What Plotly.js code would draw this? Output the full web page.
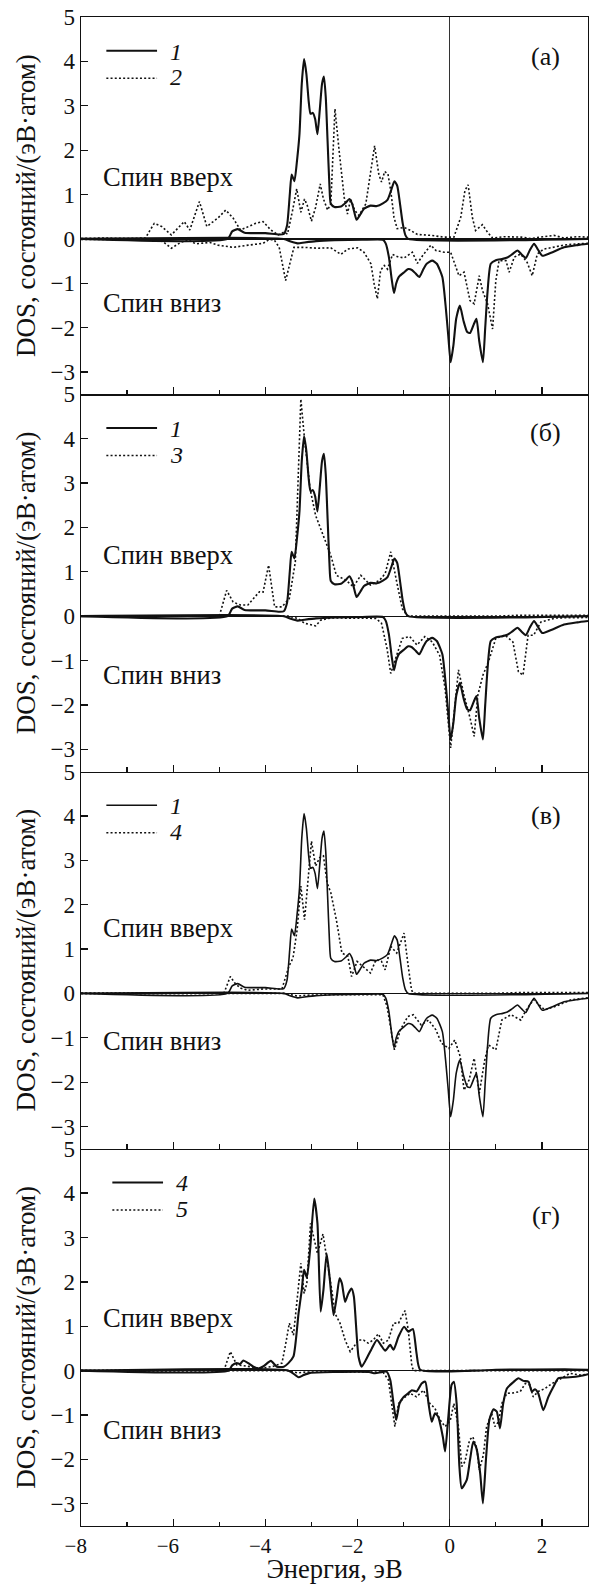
<!DOCTYPE html>
<html>
<head>
<meta charset="utf-8">
<script src="https://cdn.plot.ly/plotly-3.0.1.min.js"></script>
<style>html,body{margin:0;padding:0;background:#fff;}</style>
</head>
<body>
<div id="chart" style="width:589px;height:1584px;"></div>
<script>
// ---- Data ----
// Curve 1 (panels а, б, в, solid)
const s1UpX = [-8,-4.82,-4.72,-4.6,-4.45,-4.2,-4.0,-3.7,-3.6,-3.53,-3.47,-3.43,-3.37,-3.31,-3.26,-3.21,-3.16,-3.11,-3.06,-3.02,-2.97,-2.92,-2.87,-2.82,-2.77,-2.73,-2.69,-2.65,-2.61,-2.58,-2.5,-2.36,-2.25,-2.18,-2.12,-2.07,-2.02,-1.94,-1.86,-1.72,-1.58,-1.45,-1.35,-1.27,-1.2,-1.14,-1.08,-1.02,-0.96,-0.9,3];
const s1UpY = [0,0,0.17,0.22,0.14,0.13,0.13,0.1,0.11,0.3,1.0,1.45,1.3,1.8,2.36,3.5,4.05,3.72,3.1,2.82,2.84,2.7,2.36,2.9,3.5,3.66,3.2,2.2,1.2,0.79,0.72,0.73,0.82,0.9,0.8,0.6,0.43,0.55,0.68,0.75,0.74,0.8,0.88,1.1,1.3,1.2,0.8,0.35,0.08,0,0];
const s1DnX = [-8,-3.6,-3.45,-3.3,-3.15,-2.9,-2.5,-1.9,-1.45,-1.39,-1.32,-1.26,-1.21,-1.16,-1.1,-1.0,-0.9,-0.82,-0.74,-0.66,-0.58,-0.5,-0.38,-0.28,-0.16,-0.09,-0.03,0.02,0.08,0.14,0.22,0.3,0.38,0.44,0.52,0.58,0.64,0.72,0.77,0.82,0.89,1.0,1.15,1.25,1.35,1.47,1.56,1.65,1.74,1.83,1.92,2.01,2.2,2.48,2.77,3.0];
const s1DnY = [0,0,-0.06,-0.1,-0.08,-0.05,-0.03,-0.02,-0.02,-0.1,-0.41,-0.9,-1.22,-1.0,-0.85,-0.76,-0.68,-0.7,-0.78,-0.86,-0.7,-0.56,-0.49,-0.56,-0.86,-1.5,-2.2,-2.78,-2.4,-1.8,-1.5,-1.85,-2.1,-2.12,-1.93,-1.8,-2.3,-2.78,-2.0,-1.2,-0.56,-0.48,-0.45,-0.42,-0.35,-0.26,-0.35,-0.43,-0.25,-0.11,-0.25,-0.38,-0.31,-0.19,-0.14,-0.11];

// Curve 2 (panel а, dotted)
const s2UpX = [-8,-7.5,-7.0,-6.6,-6.5,-6.41,-6.25,-6.04,-5.76,-5.64,-5.43,-5.27,-5.03,-4.86,-4.7,-4.54,-4.21,-4.05,-3.88,-3.72,-3.6,-3.52,-3.41,-3.32,-3.23,-3.15,-3.09,-3.0,-2.91,-2.81,-2.74,-2.65,-2.58,-2.49,-2.4,-2.29,-2.22,-2.15,-2.06,-1.97,-1.82,-1.73,-1.63,-1.54,-1.48,-1.41,-1.34,-1.28,-1.21,-1.14,-0.99,-0.85,-0.7,-0.41,-0.12,0.09,0.24,0.33,0.4,0.49,0.56,0.71,0.82,0.93,1.18,1.55,1.76,2.26,2.48,2.77,3.0];
const s2UpY = [0.01,0.02,0.01,0.02,0.2,0.35,0.28,0.09,0.39,0.2,0.84,0.28,0.47,0.65,0.47,0.2,0.35,0.39,0.2,0.09,0.15,0.11,0.64,1.13,0.6,0.9,0.75,0.4,0.71,1.24,0.9,0.65,0.79,2.93,1.99,0.94,0.56,0.9,0.64,0.53,0.79,1.46,2.1,1.46,1.28,1.52,1.46,1.09,0.49,0.23,0.26,0.19,0.1,0.08,0.04,0.04,0.49,1.09,1.22,0.49,0.19,0.32,0.15,0.02,0.05,0.04,0.01,0.08,0.02,0.05,0.04];
const s2DnX = [-8,-6.3,-6.2,-6.04,-5.84,-5.68,-5.51,-5.2,-5.03,-4.7,-4.37,-4.05,-3.93,-3.81,-3.7,-3.56,-3.47,-3.38,-3.16,-2.87,-2.58,-2.36,-2.22,-2.0,-1.86,-1.71,-1.64,-1.57,-1.5,-1.42,-1.35,-1.24,-1.13,-0.99,-0.81,-0.7,-0.59,-0.41,-0.3,-0.12,0.02,0.13,0.2,0.31,0.44,0.53,0.64,0.71,0.82,0.93,1.0,1.07,1.22,1.29,1.4,1.54,1.68,1.79,1.9,2.04,2.26,2.48,2.77,3.0];
const s2DnY = [-0.01,-0.02,-0.08,-0.21,-0.08,-0.02,-0.11,-0.08,-0.14,-0.19,-0.14,-0.1,-0.02,-0.02,-0.19,-0.94,-0.56,-0.19,-0.19,-0.21,-0.2,-0.35,-0.23,-0.2,-0.3,-0.56,-1.01,-1.35,-0.71,-0.6,-0.68,-0.35,-0.4,-0.43,-0.3,-0.55,-0.38,-0.14,-0.26,-0.3,-0.3,-0.64,-0.83,-0.75,-1.39,-1.46,-0.83,-1.16,-1.46,-2.03,-0.94,-0.49,-0.49,-0.75,-0.41,-0.34,-0.53,-0.83,-0.34,-0.23,-0.19,-0.14,-0.11,-0.1];

// Curve 3 (panel б, dotted)
const s3UpX = [-8,-5.0,-4.84,-4.7,-4.54,-4.38,-4.13,-4.05,-3.93,-3.8,-3.64,-3.48,-3.35,-3.23,-3.15,-3.03,-2.91,-2.74,-2.58,-2.46,-2.25,-2.09,-1.93,-1.72,-1.52,-1.4,-1.28,-1.15,-1.03,-0.91,1.0,1.5,3.0];
const s3UpY = [0,0,0.58,0.32,0.25,0.25,0.55,0.54,1.15,0.21,0.21,0.4,1.22,4.89,3.99,2.87,2.27,1.82,1.37,0.92,0.81,0.66,0.92,0.7,0.81,0.96,1.45,0.77,0.17,0,0,0.02,0.02];
const s3DnX = [-8,-3.5,-3.3,-3.15,-2.91,-2.8,-2.58,-1.6,-1.48,-1.36,-1.28,-1.15,-1.03,-0.87,-0.71,-0.54,-0.38,-0.22,-0.1,0.02,0.11,0.19,0.31,0.44,0.53,0.61,0.72,0.84,1.0,1.2,1.37,1.49,1.59,1.7,1.82,1.98,2.3,3.0];
const s3DnY = [0,0,-0.05,-0.16,-0.22,-0.09,-0.04,-0.05,-0.16,-0.73,-1.29,-0.88,-0.5,-0.46,-0.65,-0.46,-0.58,-0.88,-1.63,-2.97,-2.0,-1.21,-1.78,-2.29,-2.71,-1.78,-1.33,-1.03,-0.5,-0.43,-0.58,-1.25,-1.33,-0.43,-0.43,-0.13,-0.04,-0.03];

// Curve 4 (panel в, dotted)
const s4UpX = [-8,-4.9,-4.76,-4.66,-4.54,-4.38,-4.05,-3.64,-3.49,-3.4,-3.31,-3.23,-3.15,-3.08,-3.0,-2.91,-2.82,-2.74,-2.66,-2.58,-2.46,-2.34,-2.21,-2.13,-2.01,-1.89,-1.72,-1.6,-1.48,-1.4,-1.28,-1.15,-0.99,-0.91,-0.83,-0.79,1.0,1.5,3.0];
const s4UpY = [0,0,0.38,0.23,0.12,0.07,0.1,0.1,0.61,0.8,1.44,2.42,1.66,2.57,3.43,2.87,3.06,3.1,2.49,2.27,1.66,0.91,0.84,0.38,0.72,0.61,0.46,0.76,0.72,0.53,1.06,0.91,1.36,0.69,0.08,0,0,0.02,0.02];
const s4DnX = [-8,-3.6,-3.3,-3.1,-2.5,-1.45,-1.36,-1.2,-1.07,-0.91,-0.79,-0.62,-0.46,-0.3,-0.18,-0.02,0.11,0.23,0.31,0.42,0.53,0.64,0.76,0.84,1.0,1.13,1.33,1.54,1.66,1.82,2.06,2.3,2.64,3.0];
const s4DnY = [0,0,-0.06,-0.04,-0.03,-0.03,-0.29,-1.27,-0.82,-0.52,-0.48,-0.71,-0.6,-0.82,-1.12,-1.24,-1.05,-1.43,-2.18,-1.95,-1.46,-2.25,-1.5,-1.16,-1.27,-0.6,-0.48,-0.6,-0.37,-0.14,-0.37,-0.29,-0.14,-0.1];

// Curve 4 (panel г, solid)
const s4gUpX = [-8,-4.8,-4.72,-4.62,-4.55,-4.48,-4.37,-4.26,-4.15,-4.04,-3.88,-3.75,-3.6,-3.5,-3.39,-3.28,-3.21,-3.16,-3.1,-3.03,-2.94,-2.87,-2.8,-2.74,-2.67,-2.6,-2.52,-2.45,-2.39,-2.34,-2.27,-2.2,-2.13,-2.08,-1.98,-1.91,-1.8,-1.69,-1.58,-1.47,-1.4,-1.29,-1.22,-1.11,-0.99,-0.9,-0.8,-0.72,-0.64,0.5,1.0,2.5,3.0];
const s4gUpY = [0,0,0.12,0.17,0.15,0.23,0.17,0.09,0.05,0.1,0.22,0.09,0.09,0.17,0.32,1.29,1.82,2.27,2.1,2.72,3.88,3.32,1.33,1.82,2.64,2.04,1.25,1.67,2.08,1.97,1.55,1.74,1.85,1.67,0.32,0.09,0.28,0.5,0.69,0.54,0.45,0.58,0.47,0.77,0.99,0.88,0.94,0.39,0.02,0,0.02,0.03,0.02];
const s4gDnX = [-8,-3.5,-3.35,-3.28,-3.17,-3.03,-2.5,-1.75,-1.62,-1.37,-1.29,-1.22,-1.16,-1.09,-1.0,-0.9,-0.82,-0.72,-0.61,-0.53,-0.46,-0.39,-0.32,-0.25,-0.15,-0.1,-0.03,0.04,0.09,0.15,0.21,0.26,0.37,0.44,0.51,0.58,0.66,0.72,0.79,0.86,0.95,1.02,1.09,1.16,1.24,1.39,1.49,1.6,1.71,1.78,1.85,1.92,2.03,2.14,2.25,2.36,2.6,2.83,3.0];
const s4gDnY = [0,0,-0.1,-0.15,-0.1,-0.05,-0.03,-0.03,-0.06,-0.02,-0.21,-0.74,-1.11,-0.74,-0.59,-0.51,-0.44,-0.47,-0.29,-0.25,-0.74,-1.15,-0.96,-1.04,-1.49,-1.82,-1.04,-0.32,-0.25,-0.74,-2.16,-2.65,-2.46,-2.01,-1.6,-1.75,-2.31,-2.99,-1.94,-1.11,-0.87,-0.92,-1.3,-0.74,-0.4,-0.25,-0.17,-0.23,-0.25,-0.47,-0.42,-0.51,-0.89,-0.59,-0.36,-0.17,-0.15,-0.12,-0.08];

// Curve 5 (panel г, dotted)
const s5UpX = [-8,-4.9,-4.76,-4.62,-4.33,-4.11,-3.82,-3.64,-3.57,-3.48,-3.39,-3.32,-3.23,-3.16,-3.1,-3.02,-2.96,-2.87,-2.75,-2.67,-2.56,-2.49,-2.38,-2.27,-2.16,-2.08,-1.98,-1.87,-1.77,-1.66,-1.55,-1.44,-1.33,-1.22,-1.11,-1.06,-0.97,-0.9,-0.82,-0.78,3.0];
const s5UpY = [0,0,0.43,0.13,0.09,0.05,0.1,0.17,0.54,1.07,0.8,1.52,2.42,1.74,1.97,3.32,3.02,2.64,3.08,2.57,1.82,1.29,1.07,0.69,0.43,0.54,0.69,0.69,0.62,0.69,0.83,0.62,0.69,1.07,1.07,1.18,1.35,0.92,0.09,0,0];
const s5DnX = [-8,-3.5,-3.3,-3.1,-1.45,-1.33,-1.26,-1.19,-1.11,-1.0,-0.86,-0.72,-0.57,-0.43,-0.32,-0.21,-0.1,0.01,0.09,0.19,0.26,0.33,0.43,0.5,0.59,0.64,0.73,0.8,0.91,0.98,1.06,1.13,1.24,1.38,1.53,1.64,1.74,1.81,1.92,2.07,2.22,2.36,2.61,2.83,3.0];
const s5DnY = [0,0,-0.05,-0.03,-0.03,-0.21,-0.74,-1.26,-0.74,-0.62,-0.51,-0.59,-0.44,-0.74,-0.85,-1.11,-1.26,-1.13,-0.74,-1.26,-2.16,-2.05,-1.56,-1.49,-1.75,-2.24,-1.9,-1.26,-0.96,-1.26,-1.15,-0.74,-0.51,-0.5,-0.47,-0.29,-0.32,-0.59,-0.47,-0.4,-0.29,-0.21,-0.06,-0.1,-0.08];

// Panel text and tick labels
const panelLetters = ['(а)', '(б)', '(в)', '(г)'];
const legendNames = [['1','2'], ['1','3'], ['1','4'], ['4','5']];
const spinUpText = 'Спин вверх';
const spinDownText = 'Спин вниз';
const yTitleText = 'DOS, состояний/(эВ·атом)';
const xTitleText = 'Энергия, эВ';
const yTickVals = [-3,-2,-1,0,1,2,3,4,5];
const yTickText = ['−3','−2','−1','0','1','2','3','4','5'];
const xTickVals = [-8,-6,-4,-2,0,2];
// figure space after negative labels keeps the digit centred on its tick, as in the original
const xTickText = ['−8\u2007','−6\u2007','−4\u2007','−2\u2007','0','2'];

// ---- Build figure ----
const panels = [
  {solid:[s1UpX,s1UpY,s1DnX,s1DnY], dotted:[s2UpX,s2UpY,s2DnX,s2DnY], sw:2.1, upY:1.40, dnY:-1.45, letY:4.12},
  {solid:[s1UpX,s1UpY,s1DnX,s1DnY], dotted:[s3UpX,s3UpY,s3DnX,s3DnY], sw:2.1, upY:1.37, dnY:-1.33, letY:4.14},
  {solid:[s1UpX,s1UpY,s1DnX,s1DnY], dotted:[s4UpX,s4UpY,s4DnX,s4DnY], sw:1.6, upY:1.48, dnY:-1.08, letY:4.0},
  {solid:[s4gUpX,s4gUpY,s4gDnX,s4gDnY], dotted:[s5UpX,s5UpY,s5DnX,s5DnY], sw:2.1, upY:1.19, dnY:-1.33, letY:3.49}
];

const serif = 'Liberation Serif';
const ink = '#111';
const traces = [];
const shapes = [];
const annotations = [];
const layout = {
  width: 589, height: 1584,
  margin: {l: 81, r: 1, t: 17, b: 58},
  paper_bgcolor: '#fff', plot_bgcolor: '#fff',
  showlegend: false,
  font: {family: serif, color: ink, size: 22},
  shapes: shapes, annotations: annotations
};

panels.forEach((p, i) => {
  const n = i === 0 ? '' : String(i + 1);
  const xa = 'x' + n, ya = 'y' + n;
  const dash = '2px,2.2px';
  const dw = 1.6;
  [[p.solid[0], p.solid[1]], [p.solid[2], p.solid[3]]].forEach((d) => {
    traces.push({x: d[0], y: d[1], xaxis: xa, yaxis: ya, type: 'scatter', mode: 'lines',
      name: legendNames[i][0], showlegend: false, hoverinfo: 'skip',
      line: {color: ink, width: p.sw, shape: 'spline', smoothing: 0.55}});
  });
  [[p.dotted[0], p.dotted[1]], [p.dotted[2], p.dotted[3]]].forEach((d) => {
    traces.push({x: d[0], y: d[1], xaxis: xa, yaxis: ya, type: 'scatter', mode: 'lines',
      name: legendNames[i][1], showlegend: false, hoverinfo: 'skip',
      line: {color: ink, width: dw, dash: dash}});
  });
  const top = 1 - i * 0.25, bot = 1 - (i + 1) * 0.25;
  layout['xaxis' + n] = {
    anchor: ya, domain: [0, 1], range: [-8, 3], matches: i === 0 ? undefined : 'x',
    tickmode: 'array', tickvals: xTickVals, ticktext: xTickText,
    ticks: 'inside', ticklen: 7, tickwidth: 1.3, tickcolor: ink,
    minor: {tickmode: 'linear', tick0: -8, dtick: 1, ticks: 'inside', ticklen: 4.5, tickwidth: 1.3, tickcolor: ink},
    showticklabels: i === 3, tickfont: {family: serif, size: 21, color: ink},
    showline: true, linecolor: ink, linewidth: 1.4, mirror: i === 0,
    showgrid: false, zeroline: true, zerolinecolor: '#333', zerolinewidth: 1.2,
    title: i === 3 ? {text: xTitleText, font: {family: serif, size: 26.5, color: ink}, standoff: 6} : {text: ''}
  };
  layout['yaxis' + n] = {
    anchor: xa, domain: [bot, top], range: [-3.5, 5],
    tickmode: 'array', tickvals: yTickVals, ticktext: yTickText,
    ticks: 'inside', ticklen: 7, tickwidth: 1.3, tickcolor: ink,
    tickfont: {family: serif, size: 23, color: ink},
    showline: true, linecolor: ink, linewidth: 1.4, mirror: true,
    showgrid: false, zeroline: true, zerolinecolor: ink, zerolinewidth: 1.3,
    title: {text: yTitleText, font: {family: serif, size: 27, color: ink}, standoff: 7}
  };
  annotations.push({xref: xa, yref: ya, x: -7.57, y: p.upY, text: spinUpText, showarrow: false,
    xanchor: 'left', yanchor: 'middle', font: {family: serif, size: 26.5, color: ink}});
  annotations.push({xref: xa, yref: ya, x: -7.57, y: p.dnY, text: spinDownText, showarrow: false,
    xanchor: 'left', yanchor: 'middle', font: {family: serif, size: 26.5, color: ink}});
  annotations.push({xref: xa, yref: ya, x: 2.08, y: p.letY, text: panelLetters[i], showarrow: false,
    xanchor: 'center', yanchor: 'middle', font: {family: serif, size: 26, color: ink}});
  const lx0 = i === 3 ? -7.32 : -7.45, lx1 = i === 3 ? -6.22 : -6.35;
  shapes.push({type: 'line', xref: xa, yref: ya, x0: lx0, x1: lx1, y0: 4.24, y1: 4.24,
    line: {color: ink, width: p.sw}});
  shapes.push({type: 'line', xref: xa, yref: ya, x0: lx0, x1: lx1, y0: 3.62, y1: 3.62,
    line: {color: ink, width: dw, dash: dash}});
  annotations.push({xref: xa, yref: ya, x: lx1 + 0.23, y: 4.22, text: legendNames[i][0], showarrow: false,
    xanchor: 'left', yanchor: 'middle', font: {family: serif, size: 24, color: ink, style: 'italic'}});
  annotations.push({xref: xa, yref: ya, x: lx1 + 0.23, y: 3.64, text: legendNames[i][1], showarrow: false,
    xanchor: 'left', yanchor: 'middle', font: {family: serif, size: 24, color: ink, style: 'italic'}});
});

Plotly.newPlot('chart', traces, layout, {staticPlot: true, displayModeBar: false});
</script>
</body>
</html>
